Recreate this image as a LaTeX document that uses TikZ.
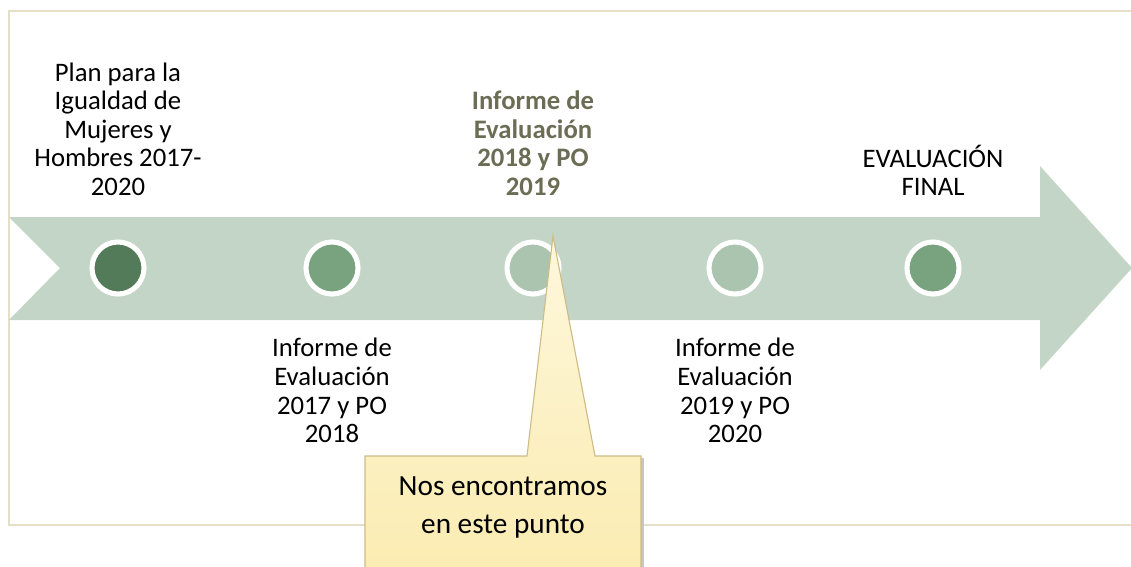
\documentclass[tikz,border=0pt]{standalone}
\usepackage{fontspec}
\setmainfont{Carlito}
\usetikzlibrary{positioning}
\definecolor{band}{HTML}{C3D5C6}
\definecolor{frame}{HTML}{E6DFC7}
\definecolor{darkdot}{HTML}{547B59}
\definecolor{middot}{HTML}{79A37F}
\definecolor{lightdot}{HTML}{AAC4AF}
\definecolor{oldtext}{HTML}{6B6D55}
\definecolor{notetop}{HTML}{FEF7DC}
\definecolor{notebot}{HTML}{FAEBAE}
\definecolor{notedraw}{HTML}{CDBC85}

\begin{document}
\begin{tikzpicture}[x=0.025cm,y=-0.025cm]
  \tikzset{dot/.style = {shape=circle,draw=white,line width=3.6pt,minimum size=1.3cm,inner sep=0pt}}
  \tikzset{lbl/.style = {align=center,inner sep=0pt,font=\fontsize{19}{20.3}\selectfont}}

  \useasboundingbox (0,0) rectangle (1131,566);
  \draw[frame,line width=1.3pt] (1140,11) -- (9,11) -- (9,525) -- (1140,525);

  % timeline band
  \fill[band] (9,217) -- (1040,217) -- (1040,166) -- (1132,268) -- (1040,370)
    -- (1040,320) -- (9,320) -- (60,268) -- cycle;

	\node[dot,fill=darkdot] (c1) at (118,268) {};
	\node[dot,fill=middot] (c2) at (332,268) {};
		\node[dot,fill=lightdot] (c3) at (533,268) {};
	\node[dot,fill=lightdot] (c4) at (735,268) {};
	\node[dot,fill=middot] (c5) at (933,268) {};

	\node[lbl,above=1.09cm of c1] (t1) {Plan para la\\Igualdad de\\Mujeres y\\Hombres 2017-\\2020};
	\node[lbl,below=1.04cm of c2] (t2) {Informe de\\Evaluación\\2017 y PO\\2018};
	\node[lbl,above=1.09cm of c3,text=oldtext,font=\fontsize{19}{20.3}\selectfont\bfseries] (t3) {Informe de\\Evaluación\\2018 y PO\\2019};
	\node[lbl,below=1.04cm of c4] (t4) {Informe de\\Evaluación\\2019 y PO\\2020};
	\node[lbl,above=1.09cm of c5] (t5) {EVALUACIÓN\\FINAL};

  % callout
  \coordinate (tip) at (553,236);
  \fill[gray!45] (641,458) rectangle (644,600);
  \draw[notedraw,line width=0.8pt,top color=notetop,bottom color=notebot]
    (365,456) -- (527,456) -- (tip) -- (595,456) -- (641,456)
    -- (641,600) -- (365,600) -- cycle;
  \node[lbl,font=\fontsize{20.8}{27}\selectfont,anchor=north] (note) at (503,476) {Nos encontramos\\en este punto};
\end{tikzpicture}
\end{document}
